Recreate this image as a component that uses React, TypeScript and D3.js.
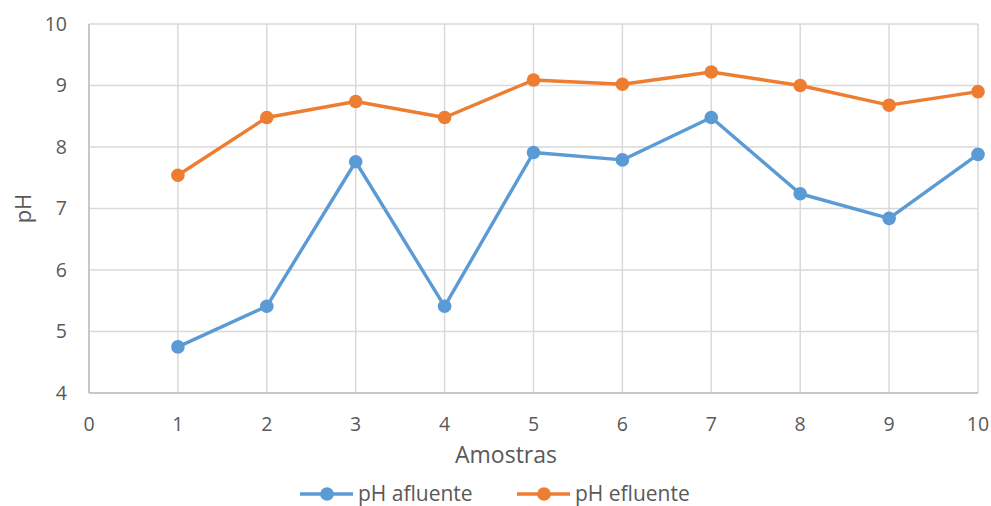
import React from "react";
import * as d3 from "d3";

const samples = [1, 2, 3, 4, 5, 6, 7, 8, 9, 10];
const phAfluente = [4.75, 5.41, 7.76, 5.41, 7.91, 7.79, 8.48, 7.24, 6.84, 7.88];
const phEfluente = [7.54, 8.48, 8.74, 8.48, 9.09, 9.02, 9.22, 9.0, 8.68, 8.9];
const xTicks = [0, 1, 2, 3, 4, 5, 6, 7, 8, 9, 10];
const yTicks = [4, 5, 6, 7, 8, 9, 10];
const seriesNames = ["pH afluente", "pH efluente"];
const colors = ["#5B9BD5", "#ED7D31"];

const W = 991;
const H = 506;
const FONT = "'Open Sans', 'Liberation Sans', sans-serif";

export default function App() {
  const x = d3.scaleLinear().domain([0, 10]).range([89, 978]);
  const y = d3.scaleLinear().domain([4, 10]).range([393, 24]);
  const line = d3
    .line<number>()
    .x((_, i) => x(samples[i]))
    .y((d) => y(d));
  const series = [phAfluente, phEfluente];
  const legendX = [300, 517];
  return (
    <svg
      width={W}
      height={H}
      style={{ position: "absolute", left: 0, top: 0, background: "#fff" }}
      fontFamily={FONT}
    >
      {xTicks.map((t) => (
        <line key={"gx" + t} x1={x(t)} x2={x(t)} y1={y(10)} y2={y(4)} stroke="#d9d9d9" strokeWidth={1.5} />
      ))}
      {yTicks.map((t) => (
        <line key={"gy" + t} x1={x(0)} x2={x(10)} y1={y(t)} y2={y(t)} stroke="#d9d9d9" strokeWidth={1.5} />
      ))}
      <line x1={x(0)} x2={x(0)} y1={y(10)} y2={y(4)} stroke="#bfbfbf" strokeWidth={1.5} />
      <line x1={x(0)} x2={x(10)} y1={y(4)} y2={y(4)} stroke="#bfbfbf" strokeWidth={1.5} />
      {yTicks.map((t) => (
        <text key={"ty" + t} x={67} y={y(t)} dy="0.35em" textAnchor="end" fontSize={19.5} fill="#595959">
          {t}
        </text>
      ))}
      {xTicks.map((t) => (
        <text key={"tx" + t} x={x(t)} y={424} dy="0.35em" textAnchor="middle" fontSize={19.5} fill="#595959">
          {t}
        </text>
      ))}
      <text x={506} y={455} dy="0.35em" textAnchor="middle" fontSize={23} fill="#595959">
        Amostras
      </text>
      <text
        transform={`translate(23,${(y(4) + y(10)) / 2}) rotate(-90)`}
        dy="0.35em"
        textAnchor="middle"
        fontSize={22}
        fill="#595959"
      >
        pH
      </text>
      {series.map((s, si) => (
        <g key={"s" + si}>
          <path d={line(s) || ""} fill="none" stroke={colors[si]} strokeWidth={3.4} strokeLinejoin="round" />
          {s.map((v, i) => (
            <circle key={i} cx={x(samples[i])} cy={y(v)} r={6.8} fill={colors[si]} />
          ))}
        </g>
      ))}
      {seriesNames.map((n, i) => (
        <g key={"l" + i}>
          <line x1={legendX[i]} x2={legendX[i] + 53} y1={494} y2={494} stroke={colors[i]} strokeWidth={3.4} />
          <circle cx={legendX[i] + 27} cy={494} r={6.8} fill={colors[i]} />
          <text x={legendX[i] + 58} y={494} dy="0.35em" fontSize={21} fill="#595959">
            {n}
          </text>
        </g>
      ))}
    </svg>
  );
}
